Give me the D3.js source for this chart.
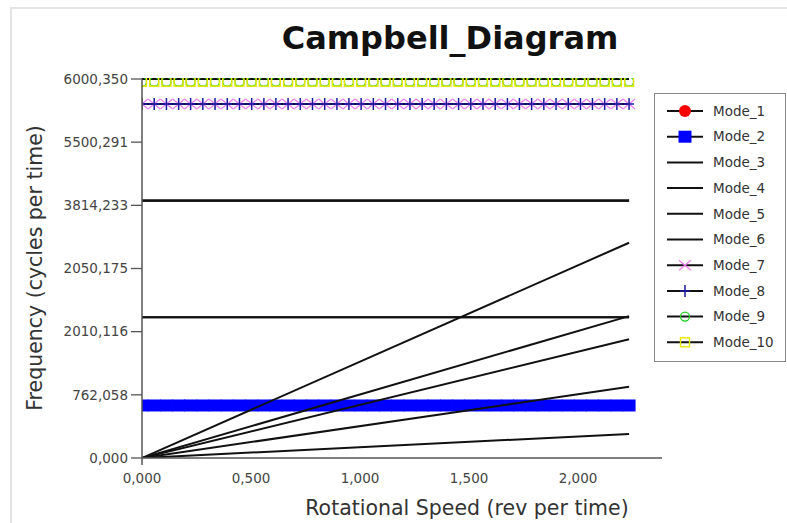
<!DOCTYPE html>
<html>
<head>
<meta charset="utf-8">
<script src="https://cdn.jsdelivr.net/npm/d3@7/dist/d3.min.js"></script>
<style>
  body { margin: 0; background: #fff; }
  text { font-family: "DejaVu Sans", Verdana, sans-serif; }
</style>
</head>
<body>
<div id="chart"></div>
<script>
const width = 787
const height = 523
const margins = ({ top: 79, right: 125, bottom: 65, left: 142 })

// rotational speed sample points (rev per time)
const speeds = [0, 0.056, 0.112, 0.168, 0.223, 0.279, 0.335, 0.391, 0.447, 0.503,
    0.559, 0.614, 0.670, 0.726, 0.782, 0.838, 0.894, 0.949, 1.005, 1.061,
    1.117, 1.173, 1.229, 1.285, 1.340, 1.396, 1.452, 1.508, 1.564, 1.620,
    1.676, 1.731, 1.787, 1.843, 1.899, 1.955, 2.011, 2.066, 2.122, 2.178, 2.234]

const modeNames = ["Mode_1", "Mode_2", "Mode_3", "Mode_4", "Mode_5", "Mode_6", "Mode_7", "Mode_8", "Mode_9", "Mode_10"]
// frequency of each mode (constant over speed), in axis units
const modeFreqs = [48.5, 48.5, 130, 130, 237.6, 237.6, 327, 327, 347.5, 347.5]
const modeMarkers = ["circle", "square", "none", "none", "none", "none", "cross", "plus", "ocircle", "osquare"]
const modeColors = ["#ff0000", "#0000ff", "#000", "#000", "#000", "#000", "#ee82ee", "#1a1aa0", "#22cc22", "#e6e600"]

// upper frequency limit line
const limitFreq = 350
// excitation order lines: frequency reached at the last speed
const orderEndFreqs = [22.2, 65.8, 109.6, 131, 198.8]

const yTickValues = [0, 58.33, 116.67, 175, 233.33, 291.67, 350]
const yTickLabels = ["0,000", "762,058", "2010,116", "2050,175", "3814,233", "5500,291", "6000,350"]
const xTickValues = [0, 0.5, 1, 1.5, 2]
const xTickLabels = ["0,000", "0,500", "1,000", "1,500", "2,000"]

const svg = d3.select("#chart")
    .append("svg")
    .attr("width", width)
    .attr("height", height)

// light frame
svg.append("path")
    .attr("d", `M11,${height} L11,8 L${width},8`)
    .attr("fill", "none")
    .attr("stroke", "#e4e4e4")
    .attr("stroke-width", 2)

const x = d3.scaleLinear().domain([0, 2.385]).range([margins.left, width - margins.right])
const y = d3.scaleLinear().domain([0, 350]).range([height - margins.bottom, margins.top])

svg.append("defs").append("clipPath")
    .attr("id", "plot-clip")
    .append("rect")
    .attr("x", margins.left)
    .attr("y", margins.top - 1)
    .attr("width", width - margins.right - margins.left)
    .attr("height", height - margins.bottom - margins.top + 1)

const plot = svg.append("g").attr("clip-path", "url(#plot-clip)")

function drawMarkers(g, kind, color, px, py) {
    if (kind == "circle") {
        g.append("circle").attr("cx", px).attr("cy", py).attr("r", 5.5).attr("fill", color)
    } else if (kind == "square") {
        g.append("rect").attr("x", px - 6.5).attr("y", py - 6).attr("width", 13).attr("height", 12).attr("fill", color)
    } else if (kind == "cross") {
        g.append("path").attr("d", `M${px - 6},${py - 5} L${px + 6},${py + 5} M${px - 6},${py + 5} L${px + 6},${py - 5}`)
            .attr("stroke", color).attr("stroke-width", 1.3).attr("fill", "none")
    } else if (kind == "plus") {
        g.append("path").attr("d", `M${px - 5},${py} L${px + 5},${py} M${px},${py - 6} L${px},${py + 6}`)
            .attr("stroke", color).attr("stroke-width", 1.5).attr("fill", "none")
    } else if (kind == "ocircle") {
        g.append("circle").attr("cx", px).attr("cy", py).attr("r", 4.5).attr("fill", "none").attr("stroke", color).attr("stroke-width", 1.3)
    } else if (kind == "osquare") {
        g.append("rect").attr("x", px - 4.5).attr("y", py - 4.5).attr("width", 9).attr("height", 9)
            .attr("fill", "none").attr("stroke", color).attr("stroke-width", 1.4)
    }
}

const line = d3.line().x(d => x(d[0])).y(d => y(d[1]))

// Mode_1 and Mode_2 markers (below the lines)
;[0, 1].forEach(i => {
    const g = plot.append("g").attr("class", "mode-markers")
    speeds.forEach(s => drawMarkers(g, modeMarkers[i], modeColors[i], x(s), y(modeFreqs[i])))
})

// black mode lines
;[2, 3, 4, 5].forEach(i => {
    plot.append("path")
        .attr("d", line(speeds.map(s => [s, modeFreqs[i]])))
        .attr("fill", "none")
        .attr("stroke", "#111")
        .attr("stroke-width", 2.2)
})

// order lines from the origin
orderEndFreqs.forEach(f => {
    plot.append("path")
        .attr("d", line([[speeds[0], 0], [speeds[speeds.length - 1], f]]))
        .attr("fill", "none")
        .attr("stroke", "#111")
        .attr("stroke-width", 2)
})

// frequency limit line
plot.append("path")
    .attr("d", line(speeds.map(s => [s, limitFreq])))
    .attr("fill", "none")
    .attr("stroke", "#111")
    .attr("stroke-width", 2.2)

// Mode_7 / Mode_8 line + markers
plot.append("path")
    .attr("d", line(speeds.map(s => [s, modeFreqs[7]])))
    .attr("fill", "none")
    .attr("stroke", "#10104a")
    .attr("stroke-width", 2)
;[6, 7, 8, 9].forEach(i => {
    const g = plot.append("g").attr("class", "mode-markers")
    speeds.forEach(s => drawMarkers(g, modeMarkers[i], modeColors[i], x(s), y(modeFreqs[i])))
})

// axes
const axisColor = "#555"
svg.append("line")
    .attr("x1", x(0)).attr("x2", x(0))
    .attr("y1", y(350)).attr("y2", y(0) + 7)
    .attr("stroke", axisColor).attr("stroke-width", 1.5)
svg.append("line")
    .attr("x1", x(0)).attr("x2", x(2.385))
    .attr("y1", y(0)).attr("y2", y(0))
    .attr("stroke", axisColor).attr("stroke-width", 1.5)

yTickValues.forEach((v, i) => {
    svg.append("line")
        .attr("x1", x(0) - 11).attr("x2", x(0))
        .attr("y1", y(v)).attr("y2", y(v))
        .attr("stroke", axisColor).attr("stroke-width", 1.3)
    svg.append("text")
        .text(yTickLabels[i])
        .attr("x", x(0) - 14)
        .attr("y", y(v))
        .attr("dy", "0.35em")
        .attr("text-anchor", "end")
        .attr("font-size", 13.5)
        .attr("fill", "#444")
})

xTickValues.forEach((v, i) => {
    svg.append("text")
        .text(xTickLabels[i])
        .attr("x", x(v))
        .attr("y", y(0) + 25)
        .attr("text-anchor", "middle")
        .attr("font-size", 13.5)
        .attr("fill", "#444")
})

svg.append("text")
    .text("Campbell_Diagram")
    .attr("x", 450)
    .attr("y", 49)
    .attr("text-anchor", "middle")
    .attr("font-size", 32)
    .attr("font-weight", "bold")
    .attr("fill", "#111")

svg.append("text")
    .text("Rotational Speed (rev per time)")
    .attr("x", 467)
    .attr("y", 515)
    .attr("text-anchor", "middle")
    .attr("font-size", 20.5)
    .attr("fill", "#333")

svg.append("text")
    .text("Frequency (cycles per time)")
    .attr("transform", `translate(42, 268) rotate(-90)`)
    .attr("text-anchor", "middle")
    .attr("font-size", 20.5)
    .attr("fill", "#333")

// legend
const legend = svg.append("g").attr("class", "legend")
legend.append("rect")
    .attr("x", 654.5).attr("y", 93.5)
    .attr("width", 131).attr("height", 268)
    .attr("fill", "#fff")
    .attr("stroke", "#888")
    .attr("stroke-width", 1)
modeNames.forEach((name, i) => {
    const ly = 111 + i * 25.7
    legend.append("line")
        .attr("x1", 667).attr("x2", 703)
        .attr("y1", ly).attr("y2", ly)
        .attr("stroke", "#111").attr("stroke-width", 2)
    const g = legend.append("g")
    if (modeMarkers[i] == "circle") {
        g.append("circle").attr("cx", 685).attr("cy", ly).attr("r", 6).attr("fill", modeColors[i])
    } else {
        drawMarkers(g, modeMarkers[i], modeColors[i], 685, ly)
    }
    legend.append("text")
        .text(name)
        .attr("x", 713)
        .attr("y", ly)
        .attr("dy", "0.35em")
        .attr("font-size", 13.5)
        .attr("fill", "#333")
})
</script>
</body>
</html>
